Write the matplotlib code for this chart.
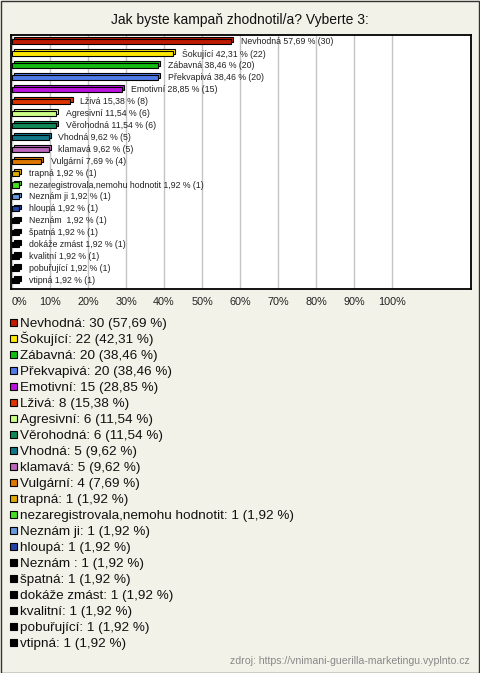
# -*- coding: utf-8 -*-
import matplotlib
matplotlib.use('Agg')
import matplotlib.pyplot as plt
from matplotlib.patches import Rectangle

plt.rcParams['font.family'] = ['Liberation Sans', 'DejaVu Sans']

title = u'Jak byste kampaň zhodnotil/a? Vyberte 3:'
source = u'zdroj: https://vnimani-guerilla-marketingu.vyplnto.cz'

names = [u'Nevhodná', u'Šokující', u'Zábavná', u'Překvapivá', u'Emotivní', u'Lživá',
         u'Agresivní', u'Věrohodná', u'Vhodná', u'klamavá', u'Vulgární', u'trapná',
         u'nezaregistrovala,nemohu hodnotit', u'Neznám ji', u'hloupá', u'Neznám ',
         u'špatná', u'dokáže zmást', u'kvalitní', u'pobuřující', u'vtipná']
counts = [30, 22, 20, 20, 15, 8, 6, 6, 5, 5, 4, 1, 1, 1, 1, 1, 1, 1, 1, 1, 1]
percents = [57.69, 42.31, 38.46, 38.46, 28.85, 15.38, 11.54, 11.54, 9.62, 9.62, 7.69,
            1.92, 1.92, 1.92, 1.92, 1.92, 1.92, 1.92, 1.92, 1.92, 1.92]
colors = ['#c01a00', '#ffe800', '#11bb11', '#4f7be8', '#bb11dd', '#dd3300',
          '#ccff88', '#118855', '#117788', '#bb66bb', '#dd7700', '#ddaa00',
          '#44dd22', '#6699dd', '#2244aa', '#000000', '#000000', '#000000',
          '#000000', '#000000', '#000000']
xticks = [0, 10, 20, 30, 40, 50, 60, 70, 80, 90, 100]


def fmt(v):
    return ('%.2f' % v).replace('.', ',')


W, H = 480.0, 673.0
bg = '#f3f2e9'
fig = plt.figure(figsize=(4.8, 6.73), dpi=100, facecolor=bg)

# oblast grafu v pixelech: x 11..471, y 35..289
ax = fig.add_axes([11 / W, 1 - 289 / H, 460 / W, 254 / H])
ax.set_facecolor('white')

n = len(names)
ypos = list(range(n))
# 3D "stin" pruhu - posunuty nahoru a doprava
ax.barh([y - 0.16 for y in ypos], percents, left=0.55, height=0.4, color=colors,
        edgecolor='black', linewidth=0.8, zorder=2)
ax.barh(ypos, percents, height=0.42, color=colors, edgecolor='black',
        linewidth=0.8, zorder=3)

for y, name, p, c in zip(ypos, names, percents, counts):
    ax.annotate(u'%s %s %% (%d)' % (name, fmt(p), c), xy=(p, y), xytext=(7, 0),
                textcoords='offset points', va='center', ha='left',
                fontsize=6.3, color='#222222', zorder=4)

ax.set_xlim(-0.26, 120.8)
ax.set_ylim(n - 1 + 0.7, -0.55)
ax.set_yticks([])
ax.set_xticks(xticks)
labels = ax.set_xticklabels(['%d%%' % t for t in xticks], fontsize=7.8, color='#222222')
labels[0].set_ha('left')
ax.tick_params(axis='x', length=0, pad=6)
ax.grid(axis='x', color='#c4c4c4', linewidth=1, zorder=0)
ax.set_axisbelow(True)
for s in ax.spines.values():
    s.set_color('black')
    s.set_linewidth(1.3)

fig.text(240 / W, 1 - 20 / H, title, ha='center', va='center', fontsize=10,
         color='#111111')

# legenda
for i, (name, p, c, col) in enumerate(zip(names, percents, counts, colors)):
    yc = 322 + 16 * i
    fig.patches.append(Rectangle((10 / W, 1 - (yc + 3.5) / H), 7 / W, 7 / H,
                                 transform=fig.transFigure, facecolor=col,
                                 edgecolor='black', linewidth=0.8))
    fig.text(20 / W, 1 - (yc + 5) / H, u'%s: %d (%s %%)' % (name, c, fmt(p)),
             ha='left', va='baseline', fontsize=9.7, color='#111111')

fig.text(470 / W, 1 - 661 / H, source, ha='right', va='center', fontsize=7.6,
         color='#888888')

fig.patches.append(Rectangle((0.5 / W, 0.5 / H), 1 - 1.5 / W, 1 - 1.5 / H,
                             transform=fig.transFigure, facecolor='none',
                             edgecolor='#333333', linewidth=1))

fig.savefig('out.png', dpi=100, facecolor=bg)
